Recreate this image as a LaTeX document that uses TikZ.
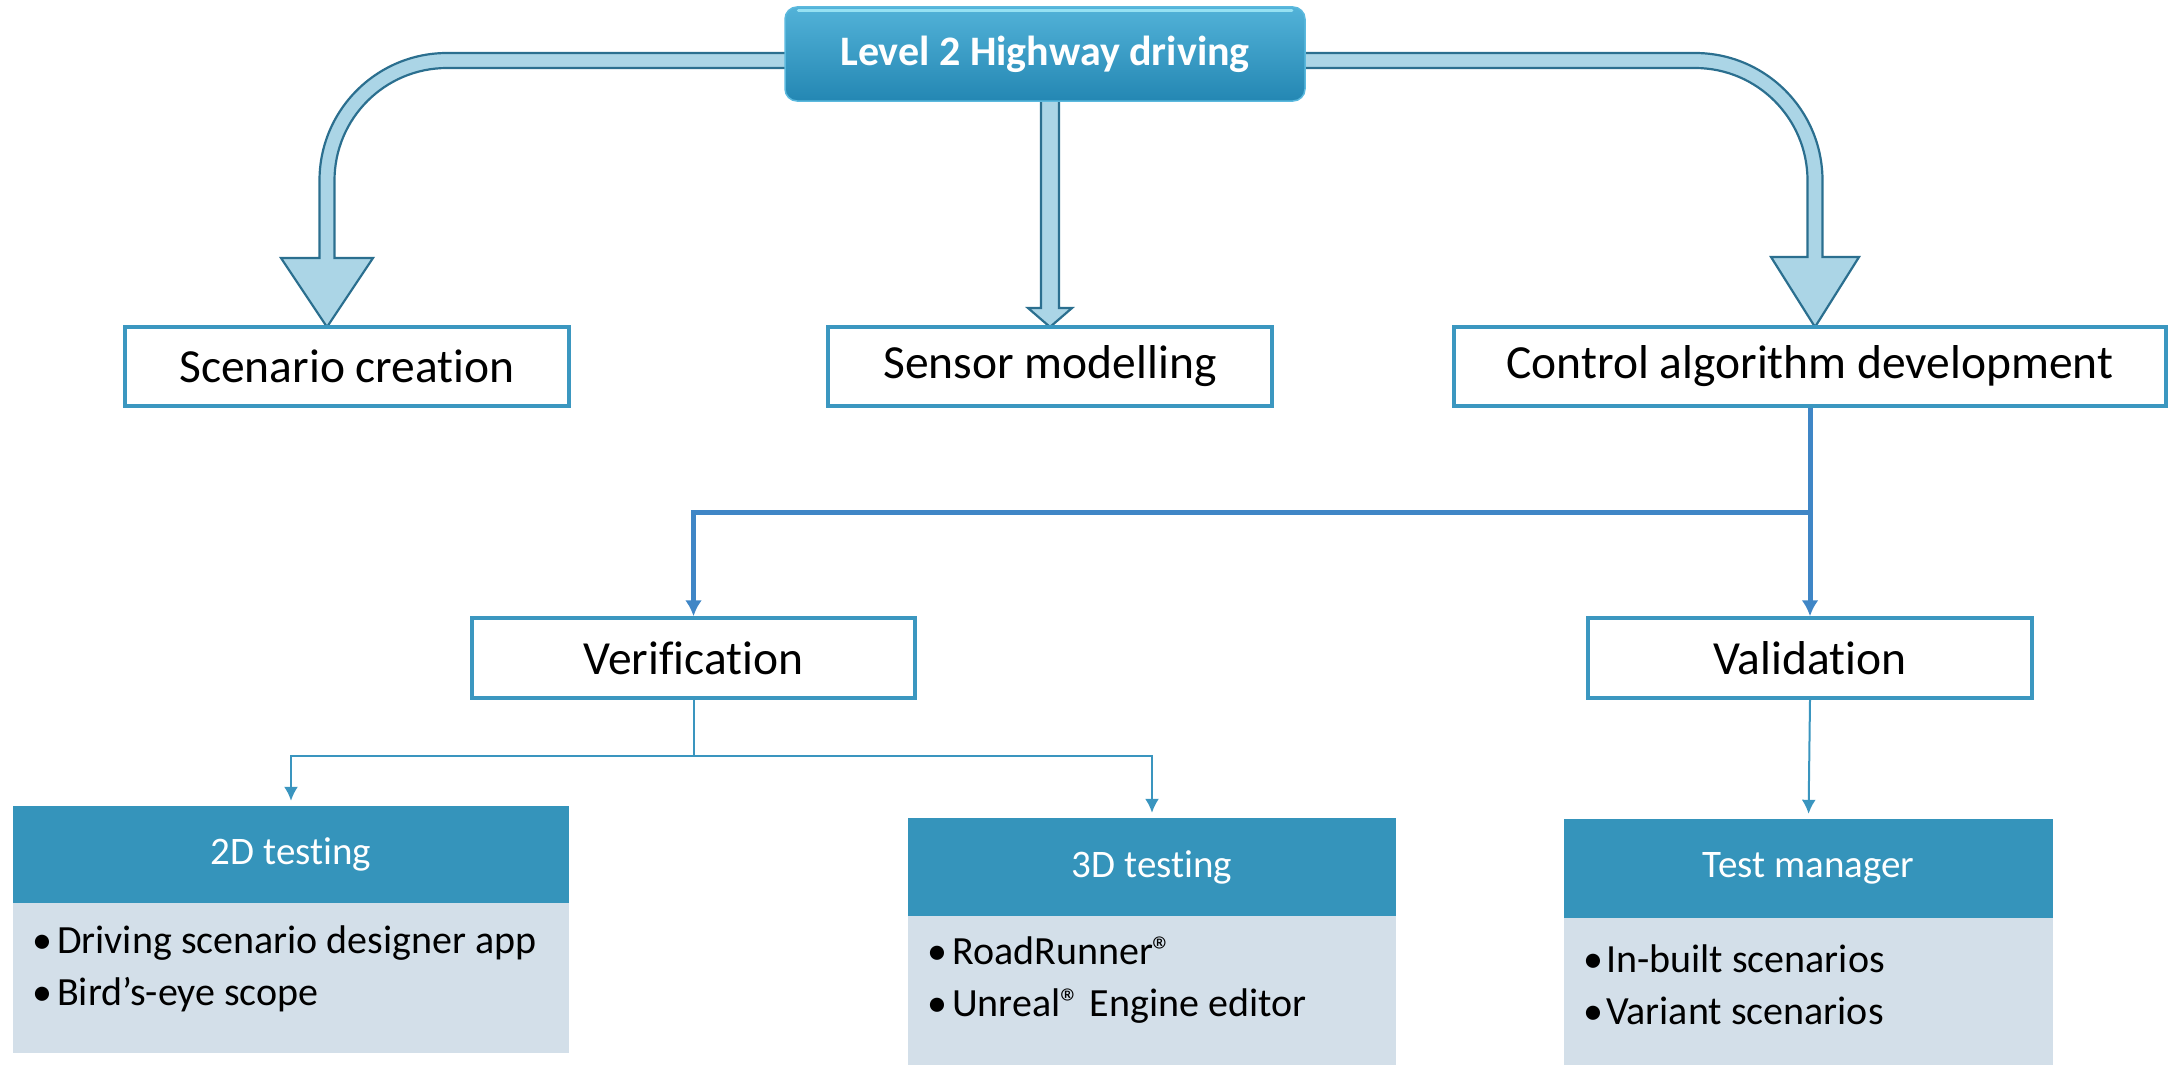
\documentclass[tikz,border=0pt]{standalone}
\usepackage{fontspec}
\setmainfont{Carlito}[Ligatures=NoCommon]
\usetikzlibrary{arrows.meta}
\definecolor{topA}{HTML}{52B2D8}
\definecolor{topB}{HTML}{2487B3}
\definecolor{topline}{HTML}{5BB9DE}
\definecolor{gloss}{HTML}{A8EEFA}
\definecolor{blkfill}{HTML}{ABD5E6}
\definecolor{blkline}{HTML}{2B6F8F}
\definecolor{boxline}{HTML}{3B97C0}
\definecolor{conn}{HTML}{3F86C6}
\definecolor{thinc}{HTML}{3A95BF}
\definecolor{headc}{HTML}{3594BB}
\definecolor{bodyc}{HTML}{D3DFE9}
\newcommand{\bul}[1]{\makebox[#1][l]{•}}
\begin{document}
\begin{tikzpicture}[x=1pt,y=-1pt,
  blockarrow/.style={fill=blkfill, draw=blkline, line width=2.2pt, line join=miter},
  midbox/.style={draw=boxline, line width=3.5pt, fill=white, minimum height=79pt, inner sep=0pt, font=\fontsize{47.5}{57}\selectfont},
  topbox/.style={rounded corners=12pt, top color=topA, bottom color=topB, draw=topline, line width=1.5pt, minimum width=520pt, minimum height=94pt, inner sep=0pt, text=white, font=\fontsize{42}{50}\selectfont\bfseries},
  headbox/.style={fill=headc, inner sep=0pt, text=white, font=\fontsize{39}{47}\selectfont},
  bodybox/.style={fill=bodyc, inner sep=0pt},
  bodytext/.style={anchor=west, align=left, inner sep=0pt, font=\fontsize{40}{52}\selectfont},
  thickconn/.style={draw=conn, line width=5pt, -{Latex[length=16pt,width=17pt]}},
  thinline/.style={draw=thinc, line width=2pt},
  thinconn/.style={thinline, -{Latex[length=14pt,width=14pt]}, shorten >=5pt},
]
\useasboundingbox (0,0) rectangle (2173,1065);

% block arrows (drawn under the title box)
\draw[blockarrow] (790,53) -- (447,53) .. controls (376.6,53) and (319.5,110.1) .. (319.5,180.5)
  -- (319.5,258) -- (281,258) -- (327,327) -- (373,258) -- (334.5,258) -- (334.5,180.5)
  .. controls (334.5,118.4) and (384.9,68) .. (447,68) -- (790,68) -- cycle;
\draw[blockarrow] (1300,53) -- (1695,53) .. controls (1765.4,53) and (1822.5,110.1) .. (1822.5,180.5)
  -- (1822.5,257) -- (1859,257) -- (1815,327) -- (1771,257) -- (1807.5,257) -- (1807.5,180.5)
  .. controls (1807.5,118.4) and (1757.1,68) .. (1695,68) -- (1300,68) -- cycle;
\draw[blockarrow] (1041,96) -- (1041,308) -- (1028,308) -- (1050,327) -- (1072,308) -- (1059,308) -- (1059,96) -- cycle;

% title
\node[topbox] (top) at (1045,54) {Level 2 Highway driving};
\draw[gloss, line width=3pt, line cap=round, opacity=0.8]
  ([xshift=14pt,yshift=-4pt]top.north west) -- ([xshift=-14pt,yshift=-4pt]top.north east);

% second row
\node[midbox, minimum width=444pt] (scen) at (347,366.5) {Scenario creation};
\node[midbox, minimum width=444pt] (sens) at (1050,366.5) {Sensor modelling};
\node[midbox, minimum width=712pt] (ctrl) at (1810,366.5) {Control algorithm development};

% third row
\node[midbox, minimum width=443pt, minimum height=80pt] (verif) at (693.5,658) {Verification};
\node[midbox, minimum width=444pt, minimum height=80pt] (valid) at (1810,658) {Validation};

% cards
\node[headbox, minimum width=556pt, minimum height=97pt] (h2d) at (291,854.5) {2D testing};
\node[bodybox, minimum width=556pt, minimum height=150pt] (b2d) at (291,978) {};
\node[bodytext] (t2d) at (32,969) {\bul{25pt}Driving scenario designer app\\\bul{25pt}Bird’s-eye scope};

\node[headbox, minimum width=488pt, minimum height=98pt] (h3d) at (1152,867) {3D testing};
\node[bodybox, minimum width=488pt, minimum height=149pt] (b3d) at (1152,990.5) {};
\node[bodytext] (t3d) at (927,980) {\bul{25pt}RoadRunner®\\\bul{25pt}Unreal® Engine editor};

\node[headbox, minimum width=489pt, minimum height=99pt] (htm) at (1808.5,868.5) {Test manager};
\node[bodybox, minimum width=489pt, minimum height=147pt] (btm) at (1808.5,991.5) {};
\node[bodytext] (ttm) at (1583,985) {\bul{23pt}In-built scenarios\\\bul{23pt}Variant scenarios};

% connectors
\draw[thickconn] (ctrl.south) -- ++(0,105) coordinate (split) -| (verif.north);
\draw[thickconn] (split) -- (valid.north);
\draw[thinline] (verif.south) -- ++(0,56) coordinate (vsplit);
\draw[thinconn] (vsplit) -| (h2d.north);
\draw[thinconn] (vsplit) -| (h3d.north);
\draw[thinconn] (valid.south) -- (htm.north);
\end{tikzpicture}
\end{document}
